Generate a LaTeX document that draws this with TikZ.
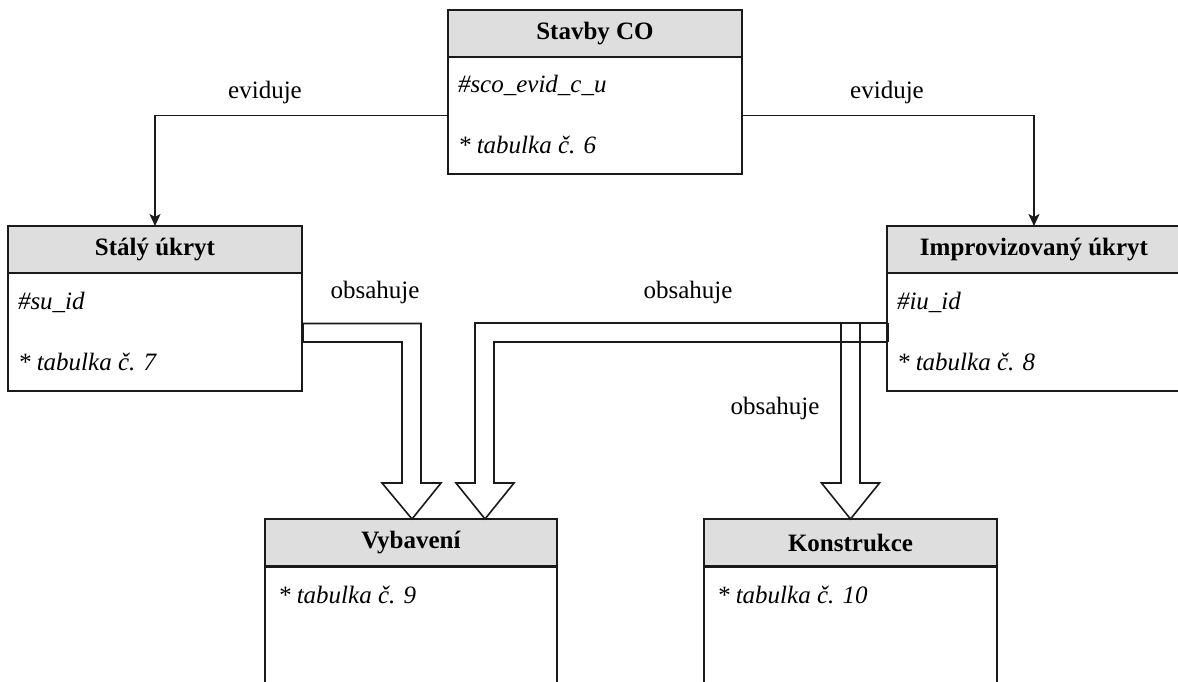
\documentclass[tikz,border=0pt]{standalone}
\usepackage{fontspec}
\setmainfont{Liberation Serif}
\usetikzlibrary{arrows.meta,calc}
\definecolor{linecol}{HTML}{1A1A1A}
\definecolor{hdrgray}{HTML}{DEDEDE}
\begin{document}
\begin{tikzpicture}[x=1pt,y=-1pt,
  every node/.style={font=\fontsize{25}{30}\selectfont, inner sep=0pt, outer sep=0pt},
  header/.style={draw=linecol, line width=1.6pt, fill=hdrgray, minimum width=294pt,
    minimum height=47pt, anchor=north west, font=\fontsize{25}{30}\selectfont\bfseries},
  body/.style={draw=linecol, line width=1.6pt, fill=white, minimum width=294pt, anchor=north west},
  attr/.style={anchor=west, font=\fontsize{25}{30}\selectfont\itshape},
  rel/.style={font=\fontsize{25}{30}\selectfont},
  evid/.style={draw=linecol, line width=1.6pt, -{Stealth[length=12pt,width=11pt,inset=3pt]}},
  flex/.style={draw=linecol, line width=1.6pt, line join=miter},
  endcap/.style={draw=linecol, line width=3pt},
]
\clip (0,0) rectangle (1178,682);
\fill[white] (0,0) rectangle (1178,682);

% --- entity boxes: body first, header on top ---
\node[body, minimum height=117pt] (scoB) at (448,57) {};
\node[header] (sco) at (448,10) {Stavby CO};
\node[attr] (scoA1) at ($(scoB.north west)+(10,28)$) {\#sco\_evid\_c\_u};
\node[attr] (scoA2) at ($(scoB.north west)+(10,88)$) {* tabulka č. 6};

\node[body, minimum height=118pt] (suB) at (8,273) {};
\node[header] (su) at (8,226) {Stálý úkryt};
\node[attr] (suA1) at ($(suB.north west)+(10,29)$) {\#su\_id};
\node[attr] (suA2) at ($(suB.north west)+(10,89)$) {* tabulka č. 7};

\node[body, minimum height=118pt] (iuB) at (887,273) {};
\node[header] (iu) at (887,226) {Improvizovaný úkryt};
\node[attr] (iuA1) at ($(iuB.north west)+(10,29)$) {\#iu\_id};
\node[attr] (iuA2) at ($(iuB.north west)+(10,89)$) {* tabulka č. 8};

\node[body, minimum width=292pt, minimum height=150pt] (vbB) at (265,567) {};
\node[header, minimum width=292pt] (vb) at (265,519) {Vybavení};
\node[attr] (vbA1) at ($(vbB.north west)+(13,28)$) {* tabulka č. 9};

\node[body, minimum width=293pt, minimum height=150pt] (koB) at (704,567) {};
\node[header, minimum width=293pt] (ko) at (704,519) {Konstrukce};
\node[attr] (koA1) at ($(koB.north west)+(13,28)$) {* tabulka č. 10};

% --- "eviduje" associations ---
\draw[evid] (scoB.west) -| (su.north);
\draw[evid] (scoB.east) -| (iu.north);
\node[rel] (ev1) at (265,92) {eviduje};
\node[rel] (ev2) at (887,92) {eviduje};

% --- "obsahuje" block arrows (outlined) ---
% Stálý úkryt -> Vybavení
\draw[flex] ($(suB.east)+(0,-8.5)$) -| ($(vb.north)+(10,-36)$) -- ++(20,0)
  -- ($(vb.north)+(1,0)$) -- ($(vb.north)+(-29,-36)$) -- ++(20,0)
  |- ($(suB.east)+(0,10)$);
\draw[endcap] ($(suB.east)+(0,-8.5)$) -- ($(suB.east)+(0,10)$);

% Improvizovaný úkryt -> Vybavení
\draw[flex] ($(iuB.west)+(0,-9)$) -| ($(vb.north)+(64,-36)$) -- ++(-19,0)
  -- ($(vb.north)+(74,0)$) -- ($(vb.north)+(103,-36)$) -- ++(-20,0)
  |- ($(iuB.west)+(0,10)$);
\draw[endcap] ($(iuB.west)+(0,-9)$) -- ($(iuB.west)+(0,10)$);

% Improvizovaný úkryt -> Konstrukce
\draw[flex] ($(iuB.west)+(0,-9)$) -| ($(ko.north)+(-9.5,-36)$) -- ++(-19.5,0)
  -- (ko.north) -- ($(ko.north)+(29,-36)$) -- ++(-19.5,0)
  -- ($(ko.north)+(9.5,-196)$);

\node[rel] (ob1) at (375,292) {obsahuje};
\node[rel] (ob2) at (688,292) {obsahuje};
\node[rel] (ob3) at (775,408) {obsahuje};
\end{tikzpicture}
\end{document}
